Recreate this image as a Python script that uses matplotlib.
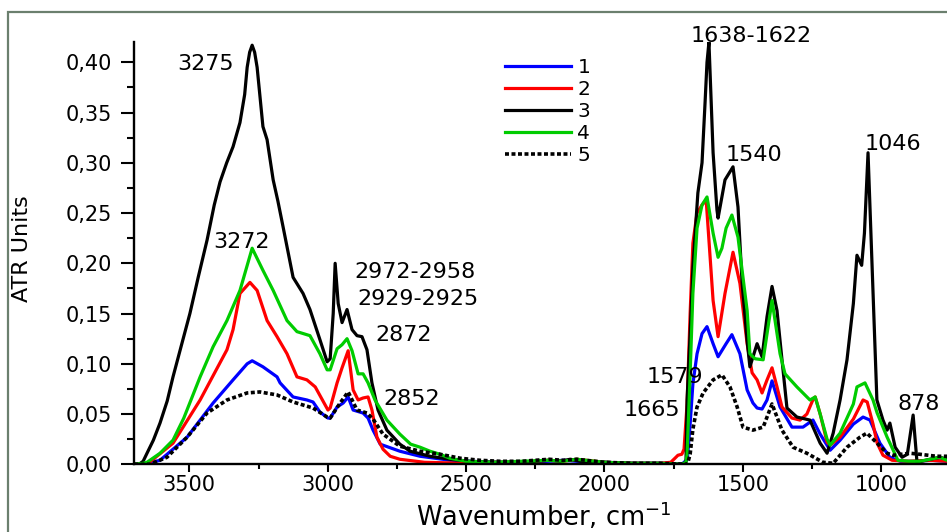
import matplotlib
matplotlib.use("Agg")
import matplotlib.pyplot as plt
from matplotlib.patches import Rectangle
from matplotlib.ticker import MultipleLocator, FuncFormatter

# ---------------- data (wavenumber cm^-1, ATR units) ----------------
w1 = [3700, 3667, 3606, 3508, 3414, 3342, 3291, 3273, 3234, 3183, 3172, 3125, 3075, 3053, 3028,
      2999, 2991, 2966, 2944, 2926, 2908, 2872, 2854, 2836, 2810, 2739, 2666, 2557, 2486, 2400,
      2300, 2200, 2150, 2100, 2000, 1900, 1800, 1720, 1700, 1690, 1680, 1665, 1647, 1629, 1607,
      1589, 1560, 1539, 1510, 1484, 1463, 1448, 1430, 1412, 1394, 1365, 1322, 1282, 1246, 1220,
      1184, 1148, 1100, 1065, 1040, 1004, 968, 930, 880, 820, 760, 700]
a1 = [0.0, 0.0, 0.004, 0.027, 0.061, 0.084, 0.100, 0.103, 0.097, 0.087, 0.081, 0.067, 0.064, 0.062, 0.052,
      0.046, 0.046, 0.057, 0.061, 0.067, 0.054, 0.051, 0.046, 0.034, 0.020, 0.013, 0.008, 0.004, 0.003, 0.002,
      0.002, 0.003, 0.004, 0.003, 0.002, 0.001, 0.001, 0.0, 0.005, 0.040, 0.080, 0.110, 0.130, 0.137, 0.120,
      0.107, 0.120, 0.129, 0.110, 0.074, 0.061, 0.056, 0.055, 0.064, 0.083, 0.057, 0.037, 0.037, 0.044, 0.030,
      0.014, 0.024, 0.040, 0.047, 0.044, 0.021, 0.007, 0.003, 0.003, 0.004, 0.003, 0.003]

w2 = [3700, 3653, 3559, 3461, 3364, 3342, 3317, 3281, 3255, 3219, 3183, 3147, 3111, 3075, 3045,
      2999, 2991, 2966, 2948, 2926, 2908, 2890, 2872, 2854, 2840, 2822, 2800, 2774, 2739, 2650,
      2500, 2400, 2300, 2200, 2150, 2100, 2000, 1900, 1800, 1760, 1745, 1734, 1720, 1712, 1701,
      1690, 1680, 1665, 1647, 1632, 1607, 1589, 1564, 1535, 1510, 1484, 1466, 1448, 1430, 1412,
      1394, 1376, 1358, 1322, 1293, 1268, 1245, 1238, 1220, 1195, 1184, 1148, 1100, 1065, 1050,
      1029, 1014, 993, 960, 900, 820, 760, 700]
a2 = [0.0, 0.0, 0.021, 0.064, 0.114, 0.134, 0.170, 0.181, 0.173, 0.143, 0.127, 0.110, 0.087, 0.084, 0.077,
      0.054, 0.056, 0.081, 0.096, 0.113, 0.074, 0.064, 0.066, 0.067, 0.054, 0.027, 0.015, 0.008, 0.005, 0.002,
      0.001, 0.002, 0.002, 0.004, 0.003, 0.005, 0.002, 0.001, 0.001, 0.002, 0.006, 0.009, 0.010, 0.015, 0.060,
      0.150, 0.220, 0.250, 0.258, 0.263, 0.163, 0.127, 0.170, 0.211, 0.180, 0.120, 0.091, 0.084, 0.071, 0.084,
      0.096, 0.077, 0.057, 0.046, 0.044, 0.050, 0.065, 0.067, 0.050, 0.022, 0.019, 0.027, 0.045, 0.064, 0.062,
      0.040, 0.021, 0.009, 0.004, 0.003, 0.004, 0.003, 0.003]

w3 = [3700, 3682, 3667, 3653, 3630, 3606, 3580, 3559, 3530, 3498, 3468, 3436, 3410, 3389, 3365,
      3342, 3317, 3300, 3291, 3282, 3273, 3264, 3255,
      3234, 3219, 3197, 3180, 3161, 3125, 3089, 3064, 3028, 3002, 2991, 2980, 2973, 2962, 2948,
      2930, 2912, 2894, 2876, 2858, 2840, 2818, 2786, 2739, 2702, 2630, 2557, 2486, 2400, 2300,
      2200, 2160, 2124, 2088, 2000, 1900, 1800, 1720, 1705, 1701, 1690, 1680, 1662, 1647, 1636,
      1629, 1622, 1607, 1593, 1589, 1564, 1535, 1517, 1502, 1484, 1474, 1448, 1430, 1412, 1394,
      1376, 1358, 1340, 1304, 1257, 1220, 1195, 1173, 1148, 1123, 1100, 1087, 1070, 1060, 1047,
      1015, 993, 978, 968, 949, 924, 905, 884, 870, 823, 787, 760, 700]
a3 = [0.0, 0.0, 0.003, 0.011, 0.024, 0.041, 0.063, 0.087, 0.117, 0.150, 0.186, 0.223, 0.258, 0.281, 0.300,
      0.316, 0.340, 0.368, 0.395, 0.410, 0.417, 0.410, 0.395,
      0.336, 0.323, 0.283, 0.262, 0.236, 0.186, 0.170, 0.154, 0.124, 0.102, 0.105, 0.150, 0.200, 0.160, 0.141,
      0.154, 0.134, 0.128, 0.127, 0.114, 0.081, 0.054, 0.034, 0.020, 0.013, 0.008, 0.005, 0.003, 0.002, 0.002,
      0.004, 0.003, 0.005, 0.003, 0.002, 0.001, 0.001, 0.0, 0.002, 0.064, 0.130, 0.196, 0.270, 0.300, 0.360,
      0.400, 0.420, 0.310, 0.253, 0.245, 0.283, 0.296, 0.256, 0.180, 0.123, 0.097, 0.120, 0.107, 0.147, 0.177,
      0.153, 0.104, 0.056, 0.047, 0.044, 0.021, 0.011, 0.031, 0.064, 0.104, 0.160, 0.208, 0.198, 0.230, 0.310,
      0.064, 0.044, 0.034, 0.041, 0.017, 0.007, 0.010, 0.049, 0.002, 0.005, 0.007, 0.005, 0.005]

w4 = [3700, 3667, 3653, 3606, 3559, 3520, 3461, 3436, 3414, 3364, 3317, 3273, 3234, 3197, 3147,
      3111, 3064, 3028, 3002, 2991, 2966, 2948, 2930, 2912, 2890, 2872, 2854, 2829, 2786, 2739,
      2700, 2666, 2630, 2594, 2558, 2500, 2400, 2300, 2200, 2150, 2100, 2000, 1900, 1800, 1720,
      1705, 1701, 1690, 1680, 1665, 1647, 1629, 1607, 1589, 1575, 1560, 1539, 1517, 1484, 1474,
      1455, 1426, 1412, 1394, 1365, 1347, 1304, 1257, 1238, 1220, 1195, 1184, 1148, 1100, 1087,
      1058, 1029, 1014, 978, 939, 900, 860, 823, 787, 762, 700]
a4 = [0.0, 0.001, 0.002, 0.011, 0.024, 0.046, 0.087, 0.103, 0.117, 0.143, 0.173, 0.215, 0.193, 0.173, 0.143,
      0.132, 0.128, 0.110, 0.094, 0.094, 0.115, 0.119, 0.125, 0.113, 0.090, 0.090, 0.081, 0.064, 0.044, 0.030,
      0.020, 0.017, 0.013, 0.010, 0.006, 0.003, 0.002, 0.003, 0.004, 0.003, 0.005, 0.002, 0.001, 0.001, 0.0,
      0.002, 0.010, 0.090, 0.170, 0.235, 0.258, 0.266, 0.230, 0.206, 0.215, 0.235, 0.248, 0.226, 0.153, 0.110,
      0.105, 0.104, 0.130, 0.163, 0.110, 0.090, 0.077, 0.064, 0.067, 0.050, 0.025, 0.019, 0.031, 0.060, 0.077,
      0.081, 0.064, 0.051, 0.027, 0.004, 0.003, 0.003, 0.005, 0.007, 0.004, 0.004]

w5 = [3700, 3642, 3581, 3508, 3436, 3364, 3291, 3245, 3183, 3125, 3053, 3002, 2991, 2955, 2926,
      2894, 2858, 2836, 2800, 2739, 2666, 2594, 2520, 2450, 2377, 2300, 2200, 2150, 2100, 2000,
      1900, 1800, 1700, 1690, 1680, 1665, 1643, 1607, 1575, 1546, 1520, 1499, 1463, 1426, 1394,
      1358, 1318, 1268, 1210, 1173, 1123, 1076, 1051, 1014, 978, 957, 895, 860, 800, 760, 700]
a5 = [0.0, 0.0, 0.007, 0.027, 0.051, 0.064, 0.071, 0.072, 0.069, 0.062, 0.056, 0.047, 0.046, 0.061, 0.072,
      0.054, 0.051, 0.045, 0.030, 0.018, 0.013, 0.010, 0.006, 0.004, 0.003, 0.003, 0.005, 0.004, 0.005, 0.002,
      0.001, 0.001, 0.0, 0.010, 0.035, 0.057, 0.071, 0.084, 0.089, 0.077, 0.057, 0.037, 0.034, 0.037, 0.060,
      0.034, 0.017, 0.011, 0.002, 0.001, 0.017, 0.027, 0.031, 0.021, 0.011, 0.009, 0.011, 0.010, 0.008, 0.008, 0.008]

series_labels = ["1", "2", "3", "4", "5"]
series_colors = ["#0000ff", "#ff0000", "#000000", "#00cc00", "#000000"]

peak_labels = ["3275", "3272", "2972-2958", "2929-2925", "2872", "2852",
               "1638-1622", "1540", "1046", "1579", "1665", "878"]
peak_pos = [(3441, 0.400), (3313, 0.223), (2684, 0.193), (2675, 0.167), (2726, 0.131), (2697, 0.067),
            (1468, 0.428), (1459, 0.310), (957, 0.321), (1744, 0.089), (1828, 0.056), (864, 0.062)]

yticks = [0.0, 0.05, 0.10, 0.15, 0.20, 0.25, 0.30, 0.35, 0.40]
xticks = [3500, 3000, 2500, 2000, 1500, 1000]

# ---------------- figure ----------------
W, H = 947, 532
fig = plt.figure(figsize=(W / 100, H / 100), dpi=100)
plt.rcParams['font.family'] = ['DejaVu Sans']

# grey outer frame (only left/top visible)
fig.patches.append(Rectangle((8 / W, -0.2), 1.5, 1.2 - 12 / H, transform=fig.transFigure,
                             fill=False, edgecolor="#6b7f6e", linewidth=1.6, clip_on=False))

ax_left = 134 / W
ax_bottom = (H - 464.3) / H
ax_h = 422.1 / H
xmin, xmax = 3700, 600
px_per_unit = 0.27668
ax_w = (xmin - xmax) * px_per_unit / W
ax = fig.add_axes([ax_left, ax_bottom, ax_w, ax_h])

ws = [w1, w2, w3, w4, w5]
As = [a1, a2, a3, a4, a5]
for i, (w, a) in enumerate(zip(ws, As)):
    if i == 4:
        ax.plot(w, a, color=series_colors[i], lw=2.6, linestyle=(0, (1.1, 0.7)),
                dash_capstyle='butt', label=series_labels[i])
    else:
        ax.plot(w, a, color=series_colors[i], lw=2.3, label=series_labels[i],
                solid_joinstyle='round')

for sp in ["top", "right"]:
    ax.spines[sp].set_visible(False)
for sp in ["left", "bottom"]:
    ax.spines[sp].set_linewidth(1.7)

ax.set_yticks(yticks)
ax.yaxis.set_minor_locator(MultipleLocator(0.025))
ax.set_xticks(xticks)
ax.xaxis.set_minor_locator(MultipleLocator(250))
ax.set_xlim(xmin, xmax)
ax.set_ylim(0, 0.42)
ax.yaxis.set_major_formatter(FuncFormatter(lambda v, p: f"{v:.2f}".replace('.', ',')))
ax.xaxis.set_major_formatter(FuncFormatter(lambda v, p: f"{int(v)}"))
ax.tick_params(axis='y', which='major', length=9.5, width=1.5, labelsize=15, pad=6)
ax.tick_params(axis='y', which='minor', length=5, width=1.5)
ax.tick_params(axis='x', which='major', length=6, width=1.5, labelsize=15, pad=2)
ax.tick_params(axis='x', which='minor', length=3.6, width=1.5)

fs_ann = 16
for lab, (xw, yv) in zip(peak_labels, peak_pos):
    ax.annotate(lab, xy=(xw, yv), xytext=(0, -0.364 * fs_ann), textcoords='offset points',
                ha='center', va='baseline', fontsize=fs_ann, annotation_clip=False)

fig.text(22.5 / W, 1 - 249 / H, "ATR Units", rotation=90, ha='center', va='center', fontsize=16)
fig.text(544 / W, 1 - 526 / H, "Wavenumber, cm$^{-1}$", ha='center', va='baseline', fontsize=18.5)

leg = ax.legend(loc='upper left', bbox_to_anchor=(505 / W, 1 - 58 / H),
                bbox_transform=fig.transFigure, frameon=False, fontsize=14.5,
                handlelength=3.3, handletextpad=0.3, labelspacing=0.15,
                borderpad=0, borderaxespad=0)

fig.savefig("out.png", dpi=100)
